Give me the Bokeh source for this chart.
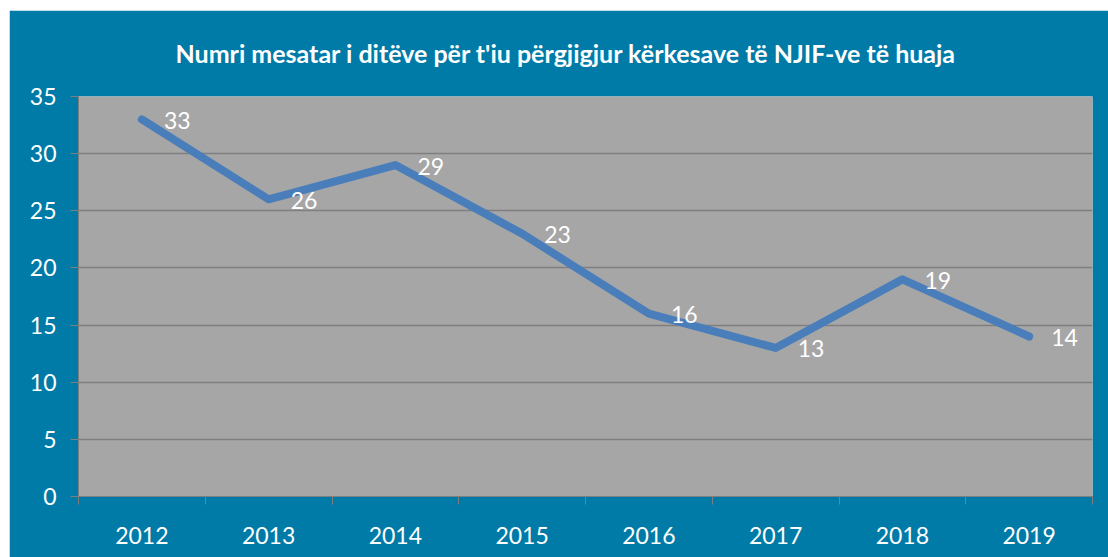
from bokeh.plotting import figure
from bokeh.models import ColumnDataSource, FixedTicker, Range1d, Title, LabelSet
from bokeh.core.properties import value
from bokeh.embed import file_html
from bokeh.resources import INLINE

years = ["2012", "2013", "2014", "2015", "2016", "2017", "2018", "2019"]
values = [33, 26, 29, 23, 16, 13, 19, 14]
y_ticks = [0, 5, 10, 15, 20, 25, 30, 35]
title_text = "Numri mesatar i ditëve për t'iu përgjigjur kërkesave të NJIF-ve të huaja"

BG = "#007ba7"
PLOT = "#a6a6a6"
GRID = "#7f7f7f"
LINE = "#4a7ebb"
FONT = "Lato"

xs = [i + 0.5 for i in range(len(years))]
src = ColumnDataSource(dict(x=xs, y=values, lab=[str(v) for v in values]))

p = figure(width=1099, height=547, output_backend="svg", toolbar_location=None,
           x_range=Range1d(0, len(years)), y_range=Range1d(0, 35),
           min_border_left=69, min_border_right=16, min_border_top=86, min_border_bottom=61)
p.margin = (10, 0, 0, 9)
p.border_fill_color = BG
p.background_fill_color = PLOT
p.outline_line_color = None

p.title = Title(text=title_text, align="left", offset=97, vertical_align="top",
                text_font=FONT, text_font_style="bold", text_font_size="25px",
                text_color="white", standoff=53)

p.line("x", "y", source=src, line_width=8, line_color=LINE, line_cap="round", line_join="round")
p.add_layout(LabelSet(x="x", y="y", text="lab", source=src, x_offset=22, y_offset=-1,
                      text_color="white", text_font_size="23px", text_font=value(FONT),
                      text_baseline="middle", text_align="left"))

# y axis
p.yaxis.ticker = FixedTicker(ticks=y_ticks)
p.yaxis.axis_line_color = GRID
p.yaxis.major_tick_line_color = GRID
p.yaxis.major_tick_out = 8
p.yaxis.major_tick_in = 0
p.yaxis.minor_tick_line_color = None
p.yaxis.major_label_text_color = "white"
p.yaxis.major_label_text_font = FONT
p.yaxis.major_label_text_font_size = "23px"
p.yaxis.major_label_standoff = 14
p.ygrid.grid_line_color = GRID
p.ygrid.grid_line_width = 1.5

# x axis
p.xaxis.ticker = FixedTicker(ticks=xs, minor_ticks=list(range(len(years) + 1)))
p.xaxis.major_label_overrides = {x: y for x, y in zip(xs, years)}
p.xaxis.axis_line_color = GRID
p.xaxis.major_tick_line_color = None
p.xaxis.minor_tick_line_color = GRID
p.xaxis.minor_tick_out = 8
p.xaxis.minor_tick_in = 0
p.xaxis.major_label_text_color = "white"
p.xaxis.major_label_text_font = FONT
p.xaxis.major_label_text_font_size = "23px"
p.xaxis.major_label_standoff = 22
p.xgrid.grid_line_color = None

open("out.html", "w").write(file_html(p, INLINE))
